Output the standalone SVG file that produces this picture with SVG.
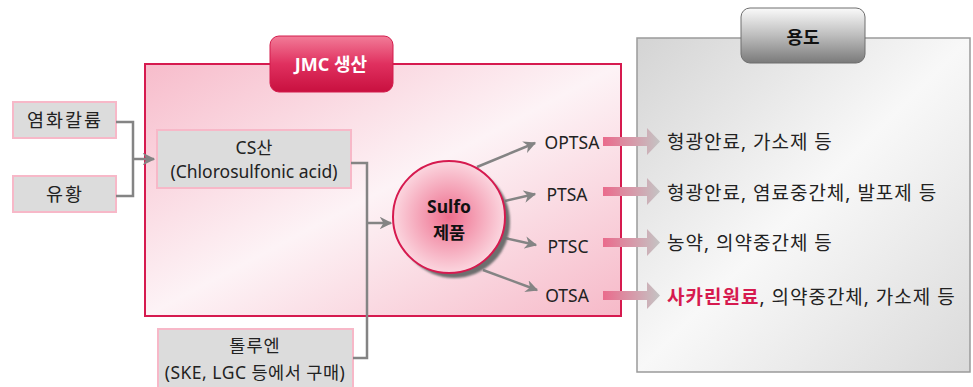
<svg xmlns="http://www.w3.org/2000/svg" width="973" height="387" viewBox="0 0 973 387">
<defs>
<linearGradient id="pinkBg" x1="0" y1="0" x2="1" y2="1">
<stop offset="0" stop-color="#f7bccb"/>
<stop offset="0.5" stop-color="#fdf3f6"/>
<stop offset="1" stop-color="#f6b9c8"/>
</linearGradient>
<linearGradient id="grayBg" x1="0" y1="0" x2="1" y2="1">
<stop offset="0" stop-color="#d4d4d4"/>
<stop offset="0.5" stop-color="#f8f8f8"/>
<stop offset="1" stop-color="#dadada"/>
</linearGradient>
<linearGradient id="redTab" x1="0" y1="0" x2="0" y2="1">
<stop offset="0" stop-color="#f27c98"/>
<stop offset="0.5" stop-color="#e0305f"/>
<stop offset="1" stop-color="#c8103f"/>
</linearGradient>
<linearGradient id="grayTab" x1="0" y1="0" x2="0" y2="1">
<stop offset="0" stop-color="#fafafa"/>
<stop offset="0.5" stop-color="#bdbdbd"/>
<stop offset="1" stop-color="#7a7a7a"/>
</linearGradient>
<radialGradient id="ball" cx="0.5" cy="0.5" r="0.5">
<stop offset="0" stop-color="#ee6d8d"/>
<stop offset="1" stop-color="#fbd6df"/>
</radialGradient>
<linearGradient id="bigArrow" x1="0" y1="0" x2="1" y2="0">
<stop offset="0" stop-color="#ea6b8c"/>
<stop offset="1" stop-color="#c4c4c4"/>
</linearGradient>
<marker id="ah" viewBox="0 0 10 10" refX="9" refY="5" markerWidth="5" markerHeight="5" orient="auto" markerUnits="strokeWidth">
<path d="M0,0 L10,5 L0,10 L3,5 Z" fill="#848484"/>
</marker>
<filter id="sh" x="-20%" y="-20%" width="150%" height="150%">
<feGaussianBlur stdDeviation="1"/>
</filter>
</defs>
<style>
.box{fill:#dcdcdc;stroke:#f7b8c8;stroke-width:2}
.t{font-family:"Noto Sans","Noto Sans CJK KR",sans-serif;font-size:17.5px;fill:#222;text-anchor:middle}
.k{font-family:"Noto Sans","Noto Sans CJK KR",sans-serif;font-size:18.5px;fill:#222;text-anchor:middle;letter-spacing:2px}
.u{font-family:"Noto Sans","Noto Sans CJK KR",sans-serif;font-size:19px;fill:#222;letter-spacing:1px}
.c{fill:none;stroke:#848484;stroke-width:2.5}
</style>

<g id="use-panel">
<rect x="637" y="38" width="333" height="334" fill="url(#grayBg)" stroke="#9a9a9a" stroke-width="1.5"/>
</g>
<g id="jmc-panel">
<rect x="145" y="64" width="476" height="252" fill="url(#pinkBg)" stroke="#d61a4f" stroke-width="2"/>
</g>
<g id="jmc-tab">
<rect x="270" y="36" width="123" height="56" rx="9" fill="url(#redTab)" stroke="#d31c4c" stroke-width="1"/>
<text x="331" y="71" font-family="'Noto Sans','Noto Sans CJK KR',sans-serif" font-size="18" font-weight="bold" fill="#fff" text-anchor="middle">JMC 생산</text>
</g>
<g id="use-tab">
<rect x="741" y="8" width="124" height="55" rx="9" fill="url(#grayTab)" stroke="#6e6e6e" stroke-width="1"/>
<text x="803" y="44" font-family="'Noto Sans','Noto Sans CJK KR',sans-serif" font-size="18" font-weight="bold" fill="#111" text-anchor="middle">용도</text>
</g>

<g id="potassium">
<rect class="box" x="13" y="102" width="103" height="36"/>
<text class="k" x="65" y="127">염화칼륨</text>
</g>
<g id="sulfur">
<rect class="box" x="13" y="176" width="103" height="36"/>
<text class="k" x="65" y="201">유황</text>
</g>
<g id="cs-acid">
<rect class="box" x="157" y="130" width="194" height="58"/>
<text class="t" x="254" y="154">CS산</text>
<text class="t" x="254" y="178">(Chlorosulfonic acid)</text>
</g>
<g id="toluene">
<rect class="box" x="158" y="329" width="195" height="60"/>
<text class="t" x="255" y="352" letter-spacing="1">톨루엔</text>
<text class="t" x="255" y="379" letter-spacing="0.5">(SKE, LGC 등에서 구매)</text>
</g>

<g id="connectors">
<path class="c" d="M116,122 H133 V196 H116"/>
<path class="c" d="M133,159 H154" marker-end="url(#ah)"/>
<path class="c" d="M351,163 H367 V358 H353"/>
<path class="c" d="M367,223 H391" marker-end="url(#ah)"/>
<path class="c" d="M477,167 L535,143" marker-end="url(#ah)"/>
<path class="c" d="M505,201 L535,194" marker-end="url(#ah)"/>
<path class="c" d="M505,238 L536,245" marker-end="url(#ah)"/>
<path class="c" d="M483,270 L537,290" marker-end="url(#ah)"/>
<path d="M603,137 H647 V128 L660,141.5 L647,155 V146 H603 Z" fill="url(#bigArrow)"/>
<path d="M603,187 H647 V178 L660,191.5 L647,205 V196 H603 Z" fill="url(#bigArrow)"/>
<path d="M603,238 H647 V229 L660,242.5 L647,256 V247 H603 Z" fill="url(#bigArrow)"/>
<path d="M603,291 H647 V282 L660,295.5 L647,309 V300 H603 Z" fill="url(#bigArrow)"/>
</g>

<g id="sulfo">
<circle cx="454" cy="222" r="56" fill="#6e6e6e" filter="url(#sh)"/>
<circle cx="449" cy="217" r="56" fill="url(#ball)" stroke="#d61a4f" stroke-width="2"/>
<text x="449" y="213" font-family="'Noto Sans','Noto Sans CJK KR',sans-serif" font-size="17.5" font-weight="bold" fill="#111" text-anchor="middle">Sulfo</text>
<text x="449" y="239" font-family="'Noto Sans','Noto Sans CJK KR',sans-serif" font-size="17.5" font-weight="bold" fill="#111" text-anchor="middle">제품</text>
</g>

<g id="optsa"><text class="t" x="572" y="149">OPTSA</text></g>
<g id="ptsa"><text class="t" x="567" y="201">PTSA</text></g>
<g id="ptsc"><text class="t" x="568" y="253">PTSC</text></g>
<g id="otsa"><text class="t" x="567" y="302">OTSA</text></g>

<g id="use1"><text class="u" x="667" y="149">형광안료, 가소제 등</text></g>
<g id="use2"><text class="u" x="667" y="200">형광안료, 염료중간체, 발포제 등</text></g>
<g id="use3"><text class="u" x="667" y="250">농약, 의약중간체 등</text></g>
<g id="use4"><text class="u" x="667" y="304"><tspan fill="#d61a4f" font-weight="bold">사카린원료</tspan>, 의약중간체, 가소제 등</text></g>
</svg>
